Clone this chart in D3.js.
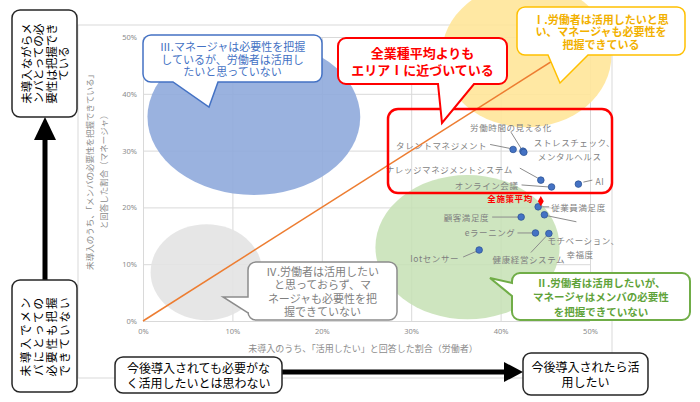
<!DOCTYPE html>
<html>
<head>
<meta charset="utf-8">
<script src="https://cdn.jsdelivr.net/npm/d3@7"></script>
<style>
  body { margin: 0; background: #fff; }
  svg { font-family: "Noto Sans CJK JP", "Noto Sans", sans-serif; }
</style>
</head>
<body>
<div id="chart"></div>
<script>
// 施策ごとの値（%）
var measures = ["タレントマネジメント", "労働時間の見える化", "ストレスチェック、メンタルヘルス",
  "ナレッジマネジメントシステム", "オンライン会議", "AI", "全施策平均", "従業員満足度",
  "モチベーション、幸福度", "顧客満足度", "eラーニング", "健康経営システム", "Iotセンサー"];
var workerShare  = [41.4, 42.5, 42.6, 44.5, 45.7, 48.7, 44.5, 44.2, 44.9, 42.3, 43.9, 45.4, 37.6];
var managerShare = [30.2, 29.9, 29.7, 24.8, 23.6, 24.1, 21.1, 20.1, 18.7, 18.3, 15.5, 15.4, 12.5];
var xTicks = [0, 10, 20, 30, 40, 50];
var yTicks = [0, 10, 20, 30, 40, 50];
var diagonal = [[0, 0], [50, 50]];

// label placement (px offsets from the point)
var labelLayout = [
  {dx: -26, dy: -4, anchor: "end", lead: [-23, -5, -3, -1]},
  {dx: -12, dy: -24, anchor: "middle", lead: [-12, -19, -2, -3]},
  {dx: 10, dy: -10, anchor: "start", lead: null, lines: ["ストレスチェック、", "メンタルヘルス"], shift: [0, 4]},
  {dx: -28, dy: -11, anchor: "end", lead: [-21, -12, -3, -2]},
  {dx: -33, dy: -2, anchor: "end", lead: [-30, -2, -3, 0]},
  {dx: 17, dy: -3, anchor: "start", lead: [5, -2, 14, -4]},
  {dx: -8, dy: -3, anchor: "end", lead: null, red: true},
  {dx: 13, dy: 0, anchor: "start", lead: [4, 0, 11, 0]},
  {dx: 3, dy: 25, anchor: "start", lead: [3, 1, 32, 7], lines: ["モチベーション、", "幸福度"], shift: [0, 19]},
  {dx: -32, dy: 0, anchor: "end", lead: [-29, 0, -3, 0]},
  {dx: -20, dy: -1, anchor: "end", lead: [-18, 0, -3, 0]},
  {dx: -20, dy: 25, anchor: "middle", lead: [-18, 19, -2, 2]},
  {dx: -20, dy: 8, anchor: "end", lead: [-16, 7, -2, 1]}
];

// エリアの楕円（データ単位）
var areas = [
  {cx: 12.4, cy: 35.9, rx: 11.9, ry: 13.7, fill: "#8FAADC", op: 0.9},
  {cx: 42.9, cy: 46.8, rx: 9.5, ry: 12.7, fill: "#FFE699", op: 0.9},
  {cx: 36.3, cy: 13.0, rx: 10.3, ry: 12.7, fill: "#C5E0B4", op: 0.85},
  {cx: 7.1, cy: 8.6, rx: 6.25, ry: 8.45, fill: "#E3E3E3", op: 0.9}
];

var W = 700, H = 402;
var svg = d3.select("#chart").append("svg").attr("width", W).attr("height", H);

var x = d3.scaleLinear().domain([0, 50]).range([143, 590]);
var y = d3.scaleLinear().domain([0, 50]).range([321, 37]);

// chart area frame
svg.append("rect").attr("x", 78).attr("y", 25).attr("width", 534).attr("height", 353)
  .attr("fill", "#fff").attr("stroke", "#d9d9d9").attr("stroke-width", 1);

// axes + grid
var gx = svg.append("g").attr("transform", "translate(0," + y(0) + ")")
  .call(d3.axisBottom(x).tickValues(xTicks).tickSize(-(y(0) - y(50))).tickPadding(8)
    .tickFormat(function(d) { return d + "%"; }));
var gy = svg.append("g").attr("transform", "translate(" + x(0) + ",0)")
  .call(d3.axisLeft(y).tickValues(yTicks).tickSize(-(x(50) - x(0))).tickPadding(6)
    .tickFormat(function(d) { return d + "%"; }));
[gx, gy].forEach(function(g) {
  g.select(".domain").remove();
  g.selectAll(".tick line").attr("stroke", "#d9d9d9");
  g.selectAll(".tick text").attr("fill", "#8c8c8c").style("font-size", "7.5px")
    .style("font-family", "'Noto Sans', sans-serif");
});

// axis titles
svg.append("text").attr("x", 363).attr("y", 348).attr("text-anchor", "middle")
  .attr("dominant-baseline", "central").attr("fill", "#8c8c8c").style("font-size", "9px")
  .text("未導入のうち、「活用したい」と回答した割合（労働者）");
var yt = svg.append("g").attr("transform", "translate(96,170) rotate(-90)");
["未導入のうち、「メンバの必要性を把握できている」", "と回答した割合（マネージャ）"].forEach(function(t, i) {
  yt.append("text").attr("x", 0).attr("y", -7 + i * 14).attr("text-anchor", "middle")
    .attr("dominant-baseline", "central").attr("fill", "#8c8c8c").style("font-size", "8.5px").text(t);
});

// area ellipses
svg.selectAll("ellipse.area").data(areas).join("ellipse")
  .attr("class", "area")
  .attr("cx", function(d) { return x(d.cx); })
  .attr("cy", function(d) { return y(d.cy); })
  .attr("rx", function(d) { return x(d.rx) - x(0); })
  .attr("ry", function(d) { return y(0) - y(d.ry); })
  .attr("fill", function(d) { return d.fill; })
  .attr("opacity", function(d) { return d.op; });

// diagonal
svg.append("path").datum(diagonal)
  .attr("d", d3.line().x(function(d) { return x(d[0]); }).y(function(d) { return y(d[1]); }))
  .attr("stroke", "#ED7D31").attr("stroke-width", 1.5).attr("fill", "none");

// points + labels
var pts = measures.map(function(m, i) {
  return {name: m, px: x(workerShare[i]), py: y(managerShare[i]), lay: labelLayout[i]};
});
svg.selectAll("line.lead").data(pts.filter(function(d) { return d.lay.lead; })).join("line")
  .attr("class", "lead")
  .attr("x1", function(d) { return d.px + d.lay.lead[0]; })
  .attr("y1", function(d) { return d.py + d.lay.lead[1]; })
  .attr("x2", function(d) { return d.px + d.lay.lead[2]; })
  .attr("y2", function(d) { return d.py + d.lay.lead[3]; })
  .attr("stroke", "#8c8c8c").attr("stroke-width", 1);

svg.selectAll("circle.pt").data(pts.filter(function(d) { return !d.lay.red; })).join("circle")
  .attr("class", "pt")
  .attr("cx", function(d) { return d.px; }).attr("cy", function(d) { return d.py; })
  .attr("r", 3.3).attr("fill", "#4472C4").attr("stroke", "#2F5597").attr("stroke-width", 0.8);
svg.selectAll("path.avg").data(pts.filter(function(d) { return d.lay.red; })).join("path")
  .attr("class", "avg")
  .attr("transform", function(d) { return "translate(" + d.px + "," + d.py + ")"; })
  .attr("d", d3.symbol(d3.symbolDiamond, 30))
  .attr("fill", "#FF0000");

pts.forEach(function(d) {
  var L = d.lay;
  var lines = L.lines || [d.name];
  lines.forEach(function(s, k) {
    var sh = L.shift ? L.shift[k] : 0;
    svg.append("text").attr("text-anchor", L.anchor)
      .attr("x", d.px + L.dx + sh).attr("y", d.py + L.dy + k * 14)
      .attr("dominant-baseline", "central")
      .attr("fill", L.red ? "#FF0000" : "#7f7f7f")
      .style("font-size", "8.5px").style("font-weight", L.red ? "bold" : "normal")
      .style("letter-spacing", "0.6px").text(s);
  });
});

// red highlight box
svg.append("rect").attr("x", 388).attr("y", 109).attr("width", 224).attr("height", 84)
  .attr("rx", 10).attr("fill", "none").attr("stroke", "#FF0000").attr("stroke-width", 2.5);

// callouts
function calloutPath(bx, by, w, h, r, side, a, b, tx, ty) {
  var p = d3.path();
  p.moveTo(bx + r, by);
  p.lineTo(bx + w - r, by); p.arcTo(bx + w, by, bx + w, by + r, r);
  p.lineTo(bx + w, by + h - r); p.arcTo(bx + w, by + h, bx + w - r, by + h, r);
  if (side === "bottom") { p.lineTo(b, by + h); p.lineTo(tx, ty); p.lineTo(a, by + h); }
  p.lineTo(bx + r, by + h); p.arcTo(bx, by + h, bx, by + h - r, r);
  if (side === "left") { p.lineTo(bx, b); p.lineTo(tx, ty); p.lineTo(bx, a); }
  p.lineTo(bx, by + r); p.arcTo(bx, by, bx + r, by, r);
  p.closePath();
  return p.toString();
}
function textBlock(parent, lines, cx, cy, lh, size, color, weight, ls) {
  lines.forEach(function(s, i) {
    parent.append("text").attr("text-anchor", "middle").attr("fill", color)
      .attr("x", cx).attr("y", cy + (i - (lines.length - 1) / 2) * lh)
      .attr("dominant-baseline", "central")
      .style("font-size", size + "px").style("font-weight", weight || "normal")
      .style("letter-spacing", (ls || 0) + "px").text(s);
  });
}

var callouts = [
  {box: [143, 35, 179, 47], side: "bottom", a: 173, b: 218, tip: [209, 107], stroke: "#4472C4", sw: 1.5,
   lines: ["Ⅲ.マネージャは必要性を把握", "しているが、労働者は活用し", "たいと思っていない"],
   color: "#4472C4", size: 11, lh: 12.5, weight: "normal"},
  {box: [338, 38, 169, 46], side: "bottom", a: 438, b: 474, tip: [442, 123], stroke: "#FF0000", sw: 2,
   lines: ["全業種平均よりも", "エリアⅠに近づいている"], color: "#FF0000", size: 13, lh: 17, weight: "bold"},
  {box: [517, 7, 168, 48], side: "bottom", a: 548, b: 588, tip: [560, 83], stroke: "#FFC000", sw: 1.5,
   lines: ["Ⅰ.労働者は活用したいと思", "い、マネージャも必要性を", "把握できている"],
   color: "#F2B100", size: 11, lh: 12.5, weight: "bold"},
  {box: [248, 262, 149, 58], side: "left", a: 297, b: 313, tip: [223, 297], stroke: "#8c8c8c", sw: 1.5,
   lines: ["Ⅳ.労働者は活用したい", "と思っておらず、マ", "ネージャも必要性を把", "握できていない"],
   color: "#7f7f7f", size: 11, lh: 13.3, weight: "normal"},
  {box: [512, 273, 178, 47], side: "left", a: 283, b: 296, tip: [490, 278], stroke: "#70AD47", sw: 2,
   lines: ["Ⅱ.労働者は活用したいが、", "マネージャはメンバの必要性", "を把握できていない"],
   color: "#5FA33A", size: 10.5, lh: 14.5, weight: "bold"}
];
callouts.forEach(function(c) {
  svg.append("path")
    .attr("d", calloutPath(c.box[0], c.box[1], c.box[2], c.box[3], 8, c.side, c.a, c.b, c.tip[0], c.tip[1]))
    .attr("fill", "#fff").attr("stroke", c.stroke).attr("stroke-width", c.sw);
  textBlock(svg, c.lines, c.box[0] + c.box[2] / 2, c.box[1] + c.box[3] / 2, c.lh, c.size, c.color, c.weight);
});

// outer explanatory boxes + arrows
var arrowW = 5;
svg.append("line").attr("x1", 45).attr("y1", 280).attr("x2", 45).attr("y2", 138)
  .attr("stroke", "#000").attr("stroke-width", arrowW);
svg.append("path").attr("d", "M34,140 L56,140 L45,117 Z").attr("fill", "#000");
svg.append("line").attr("x1", 282).attr("y1", 372).attr("x2", 506).attr("y2", 372)
  .attr("stroke", "#000").attr("stroke-width", arrowW);
svg.append("path").attr("d", "M504,362 L504,382 L523,372 Z").attr("fill", "#000");

var sideBoxes = [
  {x: 12, y: 10, w: 65, h: 107, lines: ["未導入ながらメ", "ンバとっての必", "要性は把握でき", "ている"], rot: true, ls: 0, lh: 12.5},
  {x: 12, y: 280, w: 65, h: 112, lines: ["未導入でメン", "バにとっての", "必要性も把握", "できていない"], rot: true, ls: 2, lh: 13},
  {x: 115, y: 357, w: 167, h: 36, lines: ["今後導入されても必要がな", "く活用したいとは思わない"], rot: false, ls: 0, lh: 14.5},
  {x: 523, y: 353, w: 125, h: 42, lines: ["今後導入されたら活", "用したい"], rot: false, ls: 0, lh: 15}
];
sideBoxes.forEach(function(b) {
  svg.append("rect").attr("x", b.x).attr("y", b.y).attr("width", b.w).attr("height", b.h)
    .attr("rx", 8).attr("fill", "#fff").attr("stroke", "#262626").attr("stroke-width", 1.5);
  var cx = b.x + b.w / 2, cy = b.y + b.h / 2;
  if (b.rot) {
    var g = svg.append("g").attr("transform", "translate(" + cx + "," + cy + ") rotate(-90)");
    textBlock(g, b.lines, 0, 0, b.lh, 11.5, "#000", "normal", b.ls);
  } else {
    textBlock(svg, b.lines, cx, cy, b.lh, 12, "#000", "normal", 0);
  }
});
</script>
</body>
</html>
